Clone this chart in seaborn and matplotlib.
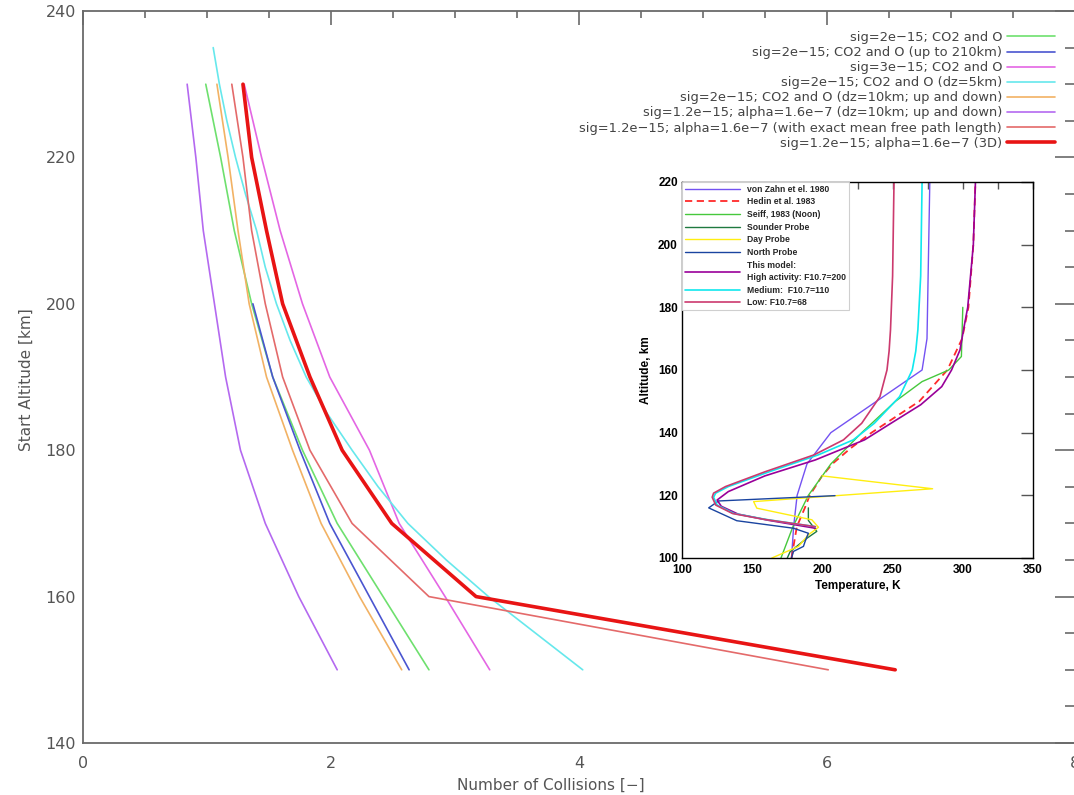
import matplotlib
matplotlib.use("Agg")
import matplotlib.pyplot as plt
import seaborn as sns
from matplotlib.ticker import MultipleLocator

# ---------------- main chart data ----------------
alt_main = [150, 160, 170, 180, 190, 200, 210, 220, 230]
coll_sig2 = [2.79, 2.42, 2.05, 1.77, 1.53, 1.36, 1.22, 1.11, 0.99]
alt_sig2_210 = [150, 160, 170, 180, 190, 200]
coll_sig2_210 = [2.63, 2.31, 1.99, 1.75, 1.53, 1.37]
coll_sig3 = [3.28, 2.92, 2.55, 2.31, 1.99, 1.77, 1.59, 1.44, 1.30]
alt_dz5 = [150, 155, 160, 165, 170, 175, 180, 185, 190, 195, 200, 205, 210, 215, 220, 225, 230, 235]
coll_dz5 = [4.03, 3.65, 3.27, 2.93, 2.62, 2.38, 2.17, 1.97, 1.80, 1.67, 1.56, 1.47, 1.40, 1.31, 1.23, 1.16, 1.10, 1.05]
coll_dz10 = [2.57, 2.23, 1.92, 1.69, 1.48, 1.34, 1.25, 1.17, 1.08]
coll_alpha = [2.05, 1.74, 1.47, 1.27, 1.15, 1.06, 0.97, 0.91, 0.84]
coll_mfp = [6.01, 2.79, 2.17, 1.83, 1.61, 1.47, 1.36, 1.29, 1.20]
coll_3d = [6.55, 3.17, 2.49, 2.09, 1.83, 1.61, 1.48, 1.36, 1.29]

main_labels = [
    "sig=2e\u221215; CO2 and O",
    "sig=2e\u221215; CO2 and O (up to 210km)",
    "sig=3e\u221215; CO2 and O",
    "sig=2e\u221215; CO2 and O (dz=5km)",
    "sig=2e\u221215; CO2 and O (dz=10km; up and down)",
    "sig=1.2e\u221215; alpha=1.6e\u22127 (dz=10km; up and down)",
    "sig=1.2e\u221215; alpha=1.6e\u22127 (with exact mean free path length)",
    "sig=1.2e\u221215; alpha=1.6e\u22127 (3D)",
]
main_colors = ["#6ee06e", "#4a55d0", "#e466e4", "#66e8ec", "#f2b264", "#b469f0", "#e46a6a", "#e81414"]

# ---------------- inset data ----------------
vz_alt = [100, 110, 120, 130, 140, 160, 170, 220]
vz_T = [178, 179.5, 182, 189, 206, 271, 274.5, 276.5]
hed_alt = [100, 110, 116, 120, 126, 130, 135, 140, 150, 160, 170, 180, 200, 220]
hed_T = [178, 181.8, 187.5, 191, 199.5, 207, 220, 235, 269, 289, 299.5, 304, 307.5, 309]
sei_alt = [100, 110, 120, 130, 140, 150, 156.3, 160, 164.3, 180]
sei_T = [170.5, 179, 190, 206, 228, 252, 271, 290, 299, 300]
snd_alt = [100, 102, 106, 108.5, 112, 116]
snd_T = [175, 177, 188, 196, 190, 190]
day_alt = [100, 103.7, 107.4, 109.8, 112.2, 115.9, 118, 122.1, 126.2]
day_T = [164, 183, 190, 197.2, 192.5, 153.3, 151, 278.5, 200]
nor_alt = [100, 102.1, 103.7, 105.3, 107.9, 109.5, 111.9, 116, 118.2, 119.9]
nor_T = [178, 179.4, 186.5, 187.7, 190, 179.4, 139, 119, 126, 209]
hi_alt = [109.5, 112, 114, 116.5, 118.5, 121.2, 126.2, 131.3, 137.7, 143.6, 148.9, 154.7, 160, 166.4, 172.8, 180, 200, 220]
hi_T = [195, 162, 140, 128, 125, 133, 159, 195, 230, 251, 270, 285, 292, 298, 300.5, 303.5, 307.5, 309]
mod_alt = [110, 112.3, 114.2, 116.9, 119.4, 120.7, 122.8, 127.5, 132.9, 137.7, 143, 151.5, 160, 166, 172.8, 190, 220]
med_T = [195, 160, 137, 125, 122.5, 124, 133, 162, 197, 222, 237, 255, 264, 266.5, 268, 270, 271]
low_T = [195, 159, 136, 124, 121.5, 122.5, 131, 159, 194, 215, 228, 241, 246, 247.5, 248.5, 250, 251]

inset_labels = ["von Zahn et el. 1980", "Hedin et al. 1983", "Seiff, 1983 (Noon)",
                "Sounder Probe", "Day Probe", "North Probe",
                "This model:\nHigh activity: F10.7=200", "Medium:  F10.7=110", "Low: F10.7=68"]
inset_colors = ["#7452f2", "#ff2a2a", "#46c83c", "#1f7a40", "#ffee10", "#1a44a0",
                "#990099", "#10e8ee", "#cc3a6e"]

# ---------------- figure ----------------
sns.set_theme(style="white")
plt.rcParams["font.family"] = ["DejaVu Sans"]

fig = plt.figure(figsize=(10.74, 7.95), dpi=100)
ax = fig.add_axes([83 / 1074, 1 - 743 / 795, (1075 - 83) / 1074, (743 - 11) / 795])

main_series = [
    (coll_sig2, alt_main), (coll_sig2_210, alt_sig2_210), (coll_sig3, alt_main),
    (coll_dz5, alt_dz5), (coll_dz10, alt_main), (coll_alpha, alt_main),
    (coll_mfp, alt_main), (coll_3d, alt_main),
]
for i, ((xv, yv), lab, col) in enumerate(zip(main_series, main_labels, main_colors)):
    sns.lineplot(x=xv, y=yv, sort=False, estimator=None, ax=ax, color=col,
                 lw=2.6 if i == 7 else 1.2, label=lab)

ax.set_xlim(0, 8)
ax.set_ylim(140, 240)
ax.xaxis.set_major_locator(MultipleLocator(2))
ax.xaxis.set_minor_locator(MultipleLocator(0.5))
ax.yaxis.set_major_locator(MultipleLocator(20))
ax.yaxis.set_minor_locator(MultipleLocator(5))
gray = "#6a6a6a"
for s in ax.spines.values():
    s.set_color(gray)
    s.set_linewidth(1.3)
ax.tick_params(which="both", direction="in", top=True, right=True, color=gray, width=1.2,
               labelcolor="#555555", labelsize=11.5)
ax.tick_params(axis="y", which="major", length=14.5, pad=5)
ax.tick_params(axis="y", which="minor", length=7.2)
ax.tick_params(axis="x", which="major", length=10, pad=9)
ax.tick_params(axis="x", which="minor", length=5)
ax.set_xlabel("Number of Collisions [\u2212]", fontsize=11, color="#555555")
ax.set_ylabel("Start Altitude [km]", fontsize=11, color="#555555")
ax.xaxis.set_label_coords(0.472, -0.047)
ax.yaxis.set_label_coords(-0.050, 0.496)

leg = ax.legend(loc="upper right", bbox_to_anchor=(1055 / 1074, 1 - 31 / 795),
                bbox_transform=fig.transFigure, frameon=False, markerfirst=False,
                fontsize=9.4, labelspacing=0.16, handlelength=3.7, handletextpad=0.35,
                borderpad=0, borderaxespad=0)
for t in leg.get_texts():
    t.set_color("#444444")

# ---------------- inset ----------------
ax2 = fig.add_axes([682 / 1074, 1 - 558 / 795, 351 / 1074, 376 / 795])
ax2.set_facecolor("white")
inset_series = [
    (vz_T, vz_alt, "-", 1.0), (hed_T, hed_alt, (0, (4, 2.5)), 1.3), (sei_T, sei_alt, "-", 1.0),
    (snd_T, snd_alt, "-", 1.0), (day_T, day_alt, "-", 1.0), (nor_T, nor_alt, "-", 1.0),
    (hi_T, hi_alt, "-", 1.2), (med_T, mod_alt, "-", 1.2), (low_T, mod_alt, "-", 1.2),
]
for (xv, yv, ls, lw), lab, col in zip(inset_series, inset_labels, inset_colors):
    sns.lineplot(x=xv, y=yv, sort=False, estimator=None, ax=ax2, color=col,
                 lw=lw, linestyle=ls, label=lab)

ax2.set_xlim(100, 350)
ax2.set_ylim(100, 220)
ax2.xaxis.set_major_locator(MultipleLocator(50))
ax2.xaxis.set_minor_locator(MultipleLocator(25))
ax2.yaxis.set_major_locator(MultipleLocator(20))
for s in ax2.spines.values():
    s.set_color("black")
    s.set_linewidth(1.0)
bold = dict(family=["Liberation Sans", "DejaVu Sans"], weight="bold")
ax2.tick_params(which="both", direction="in", top=True, right=True, color="#555555", width=1.0)
ax2.tick_params(axis="x", which="both", length=5, pad=4, labelsize=8.5)
ax2.tick_params(axis="y", which="major", length=8.5, pad=3, labelsize=8.5)
for lbl in ax2.get_xticklabels() + ax2.get_yticklabels():
    lbl.set_fontfamily(["Liberation Sans", "DejaVu Sans"])
    lbl.set_fontweight("bold")
    lbl.set_color("black")
ax2.set_xlabel("Temperature, K", fontsize=8.5, labelpad=3, color="black", **bold)
ax2.set_ylabel("Altitude, km", fontsize=8.5, labelpad=4, color="black", **bold)

leg2 = ax2.legend(loc="upper left", bbox_to_anchor=(0, 1), borderaxespad=0, frameon=True,
                  fancybox=False, edgecolor="#cfcfcf", facecolor="white", framealpha=1,
                  prop=dict(family=["Liberation Sans", "DejaVu Sans"], weight="bold", size=6.2),
                  handlelength=6.4, handletextpad=0.9, labelspacing=0.43, borderpad=0.3)
leg2.get_frame().set_linewidth(0.8)
for t in leg2.get_texts():
    t.set_linespacing(1.45)

fig.savefig("out.png", dpi=100)
